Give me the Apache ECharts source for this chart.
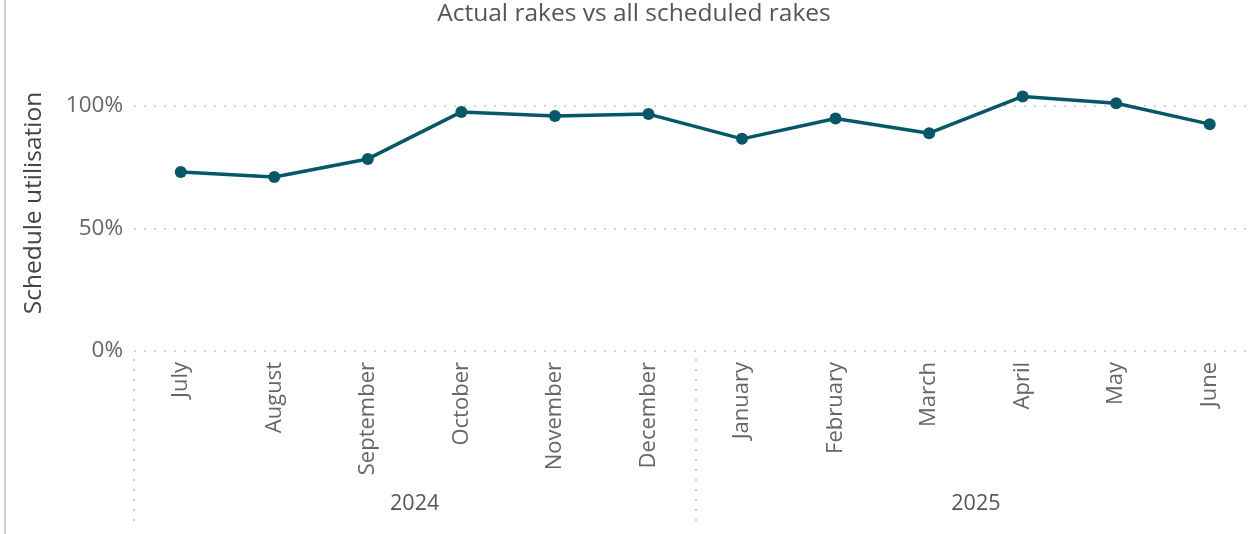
<!DOCTYPE html>
<html>
<head>
<meta charset="utf-8">
<script src="https://cdn.jsdelivr.net/npm/echarts@6/dist/echarts.min.js"></script>
<style>
html,body{margin:0;padding:0;background:#fff;overflow:hidden;}
#chart{width:1262px;height:534px;}
</style>
</head>
<body>
<div id="chart"></div>
<script>
const months = ['July','August','September','October','November','December','January','February','March','April','May','June'];
const years = ['2024','2025'];
const utilisation = [73.1, 71.0, 78.4, 97.6, 95.9, 96.7, 86.6, 94.9, 88.9, 103.9, 101.1, 92.6];
const yTicks = [0, 50, 100];

const FONT = '"Segoe UI", "Open Sans", sans-serif';
const chart = echarts.init(document.getElementById('chart'), null, {renderer:'canvas'});
chart.setOption({
  animation: false,
  backgroundColor: '#ffffff',
  grid: {left: 134, top: 0, width: 1122.5, height: 351, containLabel: false},
  xAxis: [{
    type: 'category', data: months, boundaryGap: true,
    axisLine: {show: false}, axisTick: {show: false},
    axisLabel: {rotate: 90, margin: 11, fontFamily: FONT, fontSize: 22, color: '#666666'}
  }, {
    type: 'category', data: years, position: 'bottom', offset: 8, boundaryGap: true,
    axisLine: {show: false},
    axisTick: {show: true, inside: false, length: 169, lineStyle: {color: '#cccccc', type: [2, 8], width: 2}},
    axisLabel: {margin: 134, fontFamily: FONT, fontSize: 21.5, color: '#555555'}
  }],
  yAxis: {
    type: 'value', min: 0, max: 143.27, interval: 50,
    axisLine: {show: false}, axisTick: {show: false},
    axisLabel: {formatter: v => yTicks.includes(v) ? v + '%' : '', margin: 11, fontFamily: FONT, fontSize: 22.5, color: '#666666', showMaxLabel: false},
    splitLine: {show: true, showMaxLine: false, lineStyle: {color: '#d2d2d2', type: [2, 8], width: 2}}
  },
  graphic: [
    {type: 'line', shape: {x1: 5, y1: 0, x2: 5, y2: 534}, style: {stroke: '#cccccc', lineWidth: 2}},
    {type: 'text', x: 634, y: 14,
     style: {text: 'Actual rakes vs all scheduled rakes', fontFamily: FONT, fontSize: 24.5, fill: '#555555', textAlign: 'center', textVerticalAlign: 'middle'}},
    {type: 'text', x: 34, y: 203, rotation: Math.PI / 2,
     style: {text: 'Schedule utilisation', fontFamily: FONT, fontSize: 24.5, fill: '#444444', textAlign: 'center', textVerticalAlign: 'middle'}}
  ],
  series: [{
    type: 'line', data: utilisation, xAxisIndex: 0,
    symbol: 'circle', symbolSize: 12,
    lineStyle: {color: '#065868', width: 3.5},
    itemStyle: {color: '#065868'}
  }]
});
</script>
</body>
</html>
